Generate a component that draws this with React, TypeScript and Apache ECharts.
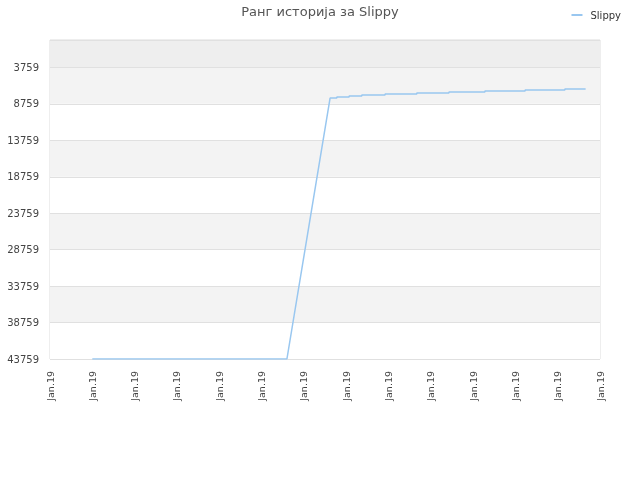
import React, { useEffect, useRef } from 'react';
import * as echarts from 'echarts';

// x positions are in label-slot units (0..13), y is rank
const xLabels = ['Jan.19', 'Jan.19', 'Jan.19', 'Jan.19', 'Jan.19', 'Jan.19', 'Jan.19', 'Jan.19', 'Jan.19', 'Jan.19', 'Jan.19', 'Jan.19', 'Jan.19', 'Jan.19'];
const rankX = [1.0, 5.6, 6.62, 6.62, 6.78, 6.78, 7.07, 7.07, 7.37, 7.37, 7.92, 7.92, 8.67, 8.67, 9.43, 9.43, 10.28, 10.28, 11.23, 11.23, 12.17, 12.17, 12.66];
const rankY = [43759, 43759, 7965, 7965, 7965, 7828, 7828, 7691, 7691, 7554, 7554, 7417, 7417, 7280, 7280, 7143, 7143, 7006, 7006, 6869, 6869, 6732, 6732];
// bands from the bottom (worst rank) upward
const bandColors = ['#ffffff', '#f3f3f3', '#ffffff', '#f3f3f3', '#ffffff', '#f3f3f3', '#ffffff', '#f3f3f3', '#eeeeee'];

const App: React.FC = () => {
  const chartRef = useRef<HTMLDivElement>(null);

  useEffect(() => {
    const myChart = echarts.init(chartRef.current!, null, { renderer: 'svg' });

    // rank is plotted negated so ticks count up from the worst rank
    const option = {
      animation: false,
      textStyle: { fontFamily: 'DejaVu Sans' },
      title: {
        text: 'Ранг историја за Slippy',
        left: 'center',
        top: 0,
        textStyle: { fontSize: 13, fontWeight: 'normal', color: '#555' },
      },
      legend: {
        data: ['Slippy'],
        right: 14,
        top: 5,
        itemWidth: 11,
        itemHeight: 2,
        itemGap: 6,
        textStyle: { fontSize: 10, color: '#333', padding: [0, 0, 0, 3] },
        icon: 'rect',
      },
      grid: {
        left: 50,
        right: 40,
        top: 40,
        bottom: 121,
        show: true,
        borderColor: '#dddddd',
        borderWidth: 1,
      },
      xAxis: {
        type: 'value',
        min: 0,
        max: 13,
        interval: 1,
        axisLine: { show: false },
        axisTick: { show: false },
        splitLine: { show: false },
        axisLabel: {
          rotate: 90,
          fontSize: 9.5,
          color: '#444',
          margin: 12,
          formatter: (v: number) => xLabels[Math.round(v)] ?? '',
        },
      },
      yAxis: {
        type: 'value',
        min: -43759,
        max: 0,
        interval: 5000,
        axisLine: { show: false },
        axisTick: { show: false },
        splitLine: { show: true, lineStyle: { color: '#e0e0e0' } },
        splitArea: { show: true, areaStyle: { color: bandColors } },
        axisLabel: {
          fontSize: 10,
          color: '#444',
          margin: 11,
          showMaxLabel: false,
          formatter: (v: number) => (v === 0 ? '' : String(-v)),
        },
      },
      series: [
        {
          name: 'Slippy',
          type: 'line',
          data: rankX.map((x, i) => [x, -rankY[i]]),
          showSymbol: false,
          symbol: 'none',
          lineStyle: { color: '#99c7f0', width: 1.5 },
          itemStyle: { color: '#99c7f0' },
        },
      ],
    };

    myChart.setOption(option);

    return () => {
      myChart.dispose();
    };
  }, []);

  return (
    <div
      ref={chartRef}
      style={{ position: 'fixed', left: 0, top: 0, width: '640px', height: '480px' }}
    />
  );
};

export default App;
